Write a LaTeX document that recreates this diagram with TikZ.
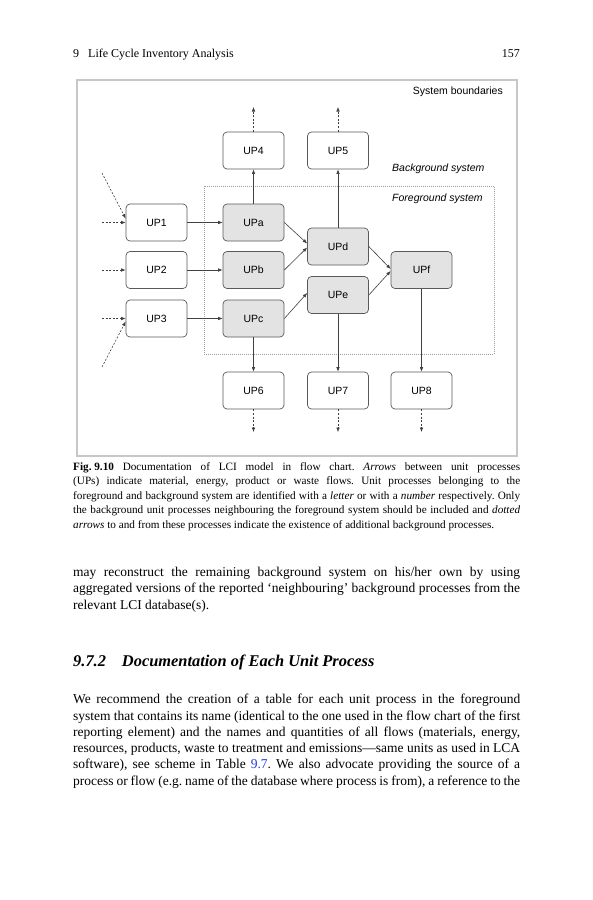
\documentclass[tikz,border=0pt]{standalone}
\usepackage{fontspec}
\setmainfont{Liberation Serif}
\newfontfamily\diagfont{Liberation Sans}
\usetikzlibrary{arrows.meta}
\usetikzlibrary{positioning}
\usepackage{xcolor}
\frenchspacing
\definecolor{framegray}{gray}{0.78}
\definecolor{boxline}{gray}{0.35}
\definecolor{fgfill}{gray}{0.89}
\definecolor{flowgray}{gray}{0.25}
\definecolor{linkblue}{RGB}{35,60,220}
\newcommand{\fullline}[1]{\makebox[447pt][s]{#1}}

\tikzset{
	upbox/.style={draw=boxline, line width=0.7pt, rounded corners=4pt, minimum width=61pt, minimum height=37pt, inner sep=0pt, font=\diagfont\fontsize{10.5}{12}\selectfont},
	fgbox/.style={upbox, fill=fgfill},
	flow/.style={draw=flowgray, line width=0.6pt, -{Latex[length=4.5pt,width=3.6pt]}},
	more/.style={flow, dash pattern=on 2pt off 1.6pt},
	boxlabel/.style={inner sep=0pt, font=\diagfont\fontsize{10.5}{12}\selectfont},
	bodytext/.style={inner sep=0pt, align=left, font=\fontsize{13.5}{16.3}\selectfont}
}

\begin{document}
\begin{tikzpicture}[x=1pt, y=-1pt]
	\fill[white] (0,0) rectangle (593,900);
	% running head
	\node[anchor=base west, inner sep=0pt, font=\fontsize{12}{14}\selectfont] (runhead) at (73,57) {9\hspace{9pt}Life Cycle Inventory Analysis};
	\node[anchor=base east, inner sep=0pt, font=\fontsize{12}{14}\selectfont] (pageno) at (520,57) {157};
	% system boundaries
	\draw[framegray, line width=1.3pt] (77,80) rectangle (517,456);
	\draw[gray!75, line width=0.7pt, dash pattern=on 1pt off 1pt] (204,186) rectangle (494,354);
	\node[boxlabel, anchor=east] (sysb) at (503,92) {System boundaries};
	\node[boxlabel, anchor=west, font=\diagfont\itshape\fontsize{10.5}{12}\selectfont] (bgsys) at (392,169) {Background system};
	\node[boxlabel, anchor=west, font=\diagfont\itshape\fontsize{10.5}{12}\selectfont] (fgsys) at (392,199) {Foreground system};
	% background unit processes
	\node[upbox] (UP4) at (253.5,150.5) {UP4};
	\node[upbox] (UP5) at (338,150.5) {UP5};
	\node[upbox] (UP1) at (156.5,222.5) {UP1};
	\node[upbox] (UP2) at (156.5,270) {UP2};
	\node[upbox] (UP3) at (156.5,318.5) {UP3};
	\node[upbox] (UP6) at (253.5,390.5) {UP6};
	\node[upbox] (UP7) at (338,390.5) {UP7};
	\node[upbox] (UP8) at (421.5,390.5) {UP8};
	% foreground unit processes
	\node[fgbox] (UPa) at (253.5,222.5) {UPa};
	\node[fgbox] (UPb) at (253.5,270) {UPb};
	\node[fgbox] (UPc) at (253.5,318.5) {UPc};
	\node[fgbox] (UPd) at (338,246.5) {UPd};
	\node[fgbox] (UPe) at (338,295) {UPe};
	\node[fgbox] (UPf) at (421.5,270) {UPf};
	% flows
	\draw[flow] (UP1) -- (UPa);
	\draw[flow] (UP2) -- (UPb);
	\draw[flow] (UP3) -- (UPc);
	\draw[flow] (UPa.east) -- ([yshift=3pt]UPd.west);
	\draw[flow] (UPb.east) -- ([yshift=-1pt]UPd.west);
	\draw[flow] (UPc.east) -- ([yshift=2pt]UPe.west);
	\draw[flow] (UPd.east) -- ([yshift=1pt]UPf.west);
	\draw[flow] (UPe.east) -- ([yshift=-1pt]UPf.west);
	\draw[flow] (UPa) -- (UP4);
	\draw[flow] (UPd) -- (UP5);
	\draw[flow] (UPc) -- (UP6);
	\draw[flow] (UPe) -- (UP7);
	\draw[flow] (UPf) -- (UP8);
	% further background processes
	\coordinate (out4) at (253.5,107);
	\coordinate (out5) at (338,107);
	\coordinate (out6) at (253.5,432);
	\coordinate (out7) at (338,432);
	\coordinate (out8) at (421.5,432);
	\coordinate (in1) at (102,222.5);
	\coordinate (in1d) at (102,173);
	\coordinate (in2) at (102,270);
	\coordinate (in3) at (102,318.5);
	\coordinate (in3d) at (102,367);
	\draw[more] (UP4) -- (out4);
	\draw[more] (UP5) -- (out5);
	\draw[more] (UP6) -- (out6);
	\draw[more] (UP7) -- (out7);
	\draw[more] (UP8) -- (out8);
	\draw[more] (in1) -- (UP1);
	\draw[more] (in1d) -- ([yshift=4pt]UP1.west);
	\draw[more] (in2) -- (UP2);
	\draw[more] (in3) -- (UP3);
	\draw[more] (in3d) -- ([yshift=-3pt]UP3.west);
	% caption
	\node[bodytext, anchor=north west, font=\fontsize{11.2}{14.5}\selectfont] (caption) at (73,462) {%
		\fullline{\textbf{\mbox{Fig. 9.10}} Documentation of LCI model in flow chart. \textit{Arrows} between unit processes}\\
		\fullline{(UPs) indicate material, energy, product or waste flows. Unit processes belonging to the}\\
		\fullline{foreground and background system are identified with a \textit{letter} or with a \textit{number} respectively. Only}\\
		\fullline{the background unit processes neighbouring the foreground system should be included and \textit{dotted}}\\
		\textit{arrows} to and from these processes indicate the existence of additional background processes.};
	% running text
	\node[bodytext, anchor=north west] (para1) at (73,567) {%
		\fullline{may reconstruct the remaining background system on his/her own by using}\\
		\fullline{aggregated versions of the reported ‘neighbouring’ background processes from the}\\
		relevant LCI database(s).};
	\node[anchor=base west, inner sep=0pt, font=\bfseries\itshape\fontsize{16.4}{19}\selectfont] (sect) at (73,666) {9.7.2\hspace{16pt}Documentation of Each Unit Process};
	\node[bodytext, anchor=north west] (para2) at (73,694) {%
		\fullline{We recommend the creation of a table for each unit process in the foreground}\\
		\fullline{system that contains its name (identical to the one used in the flow chart of the first}\\
		\fullline{reporting element) and the names and quantities of all flows (materials, energy,}\\
		\fullline{resources, products, waste to treatment and emissions---same units as used in LCA}\\
		\fullline{software), see scheme in Table {\color{linkblue}9.7}. We also advocate providing the source of a}\\
		\fullline{process or flow (e.g. name of the database where process is from), a reference to the}};
\end{tikzpicture}
\end{document}
